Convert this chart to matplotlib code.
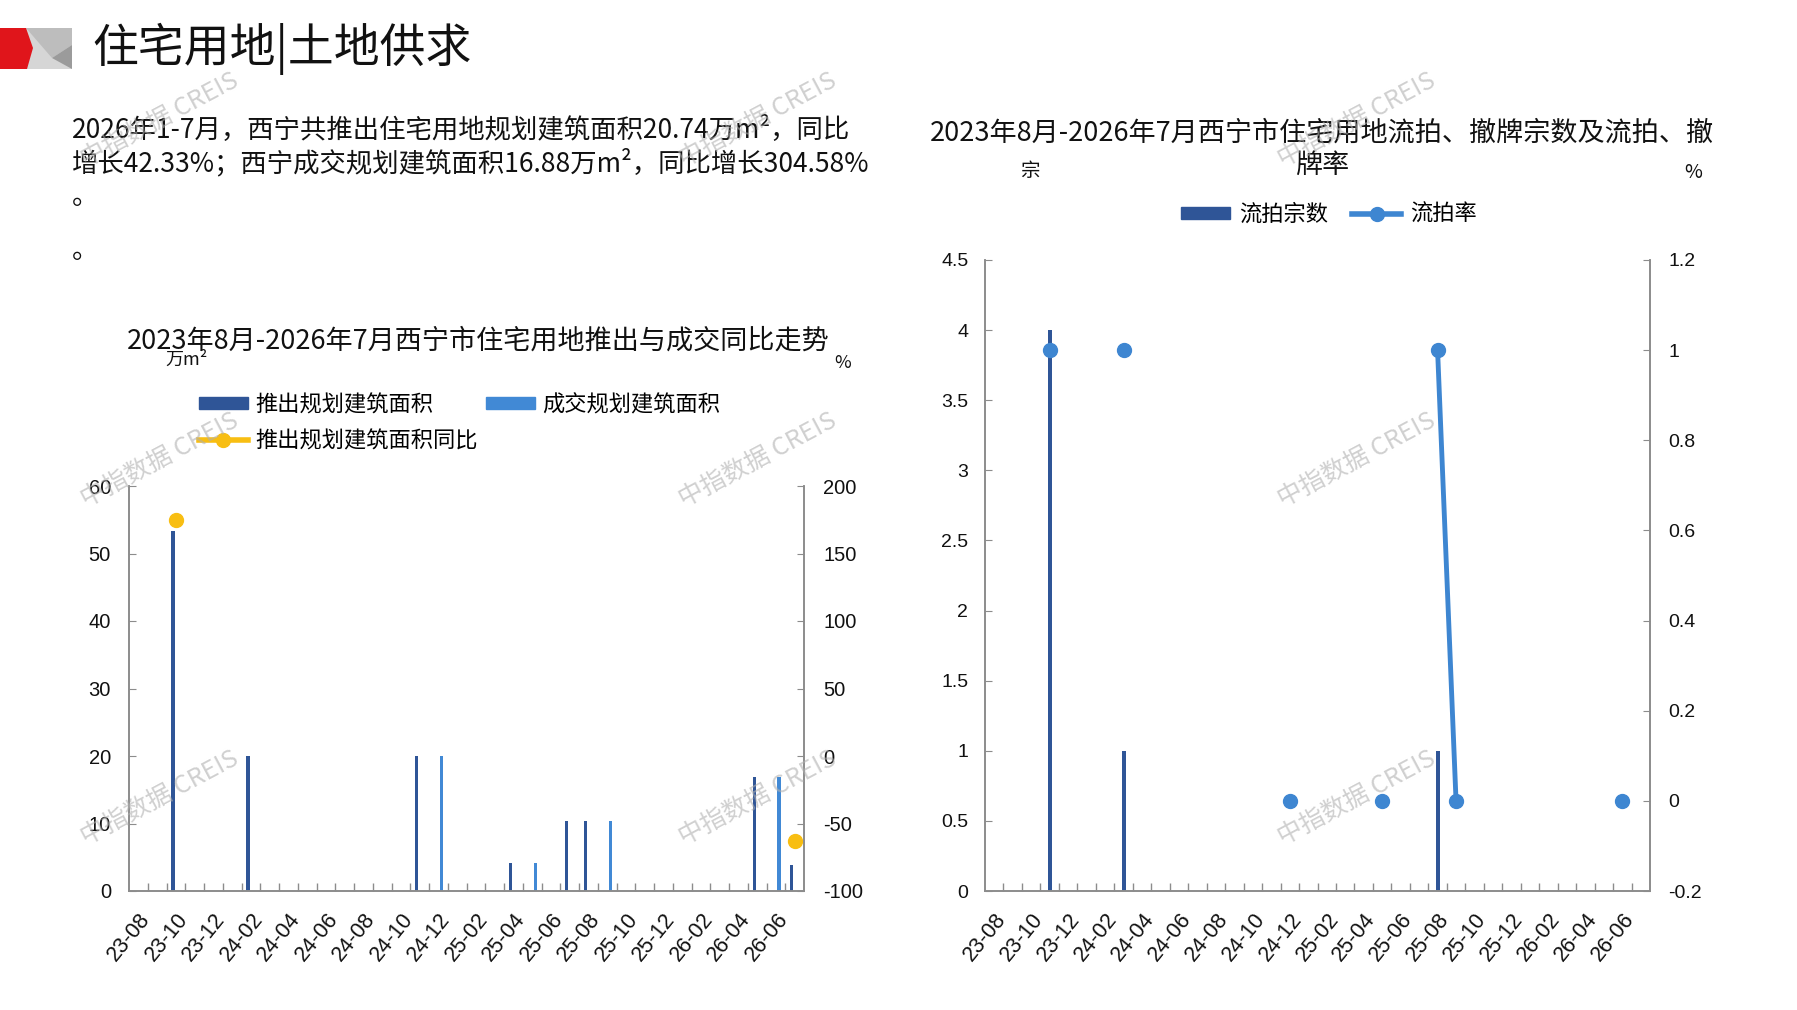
import numpy as np
import matplotlib
matplotlib.use('Agg')
import matplotlib.pyplot as plt
from matplotlib.patches import Polygon, Patch
from matplotlib.lines import Line2D

plt.rcParams['font.family'] = ['Noto Sans CJK SC', 'DejaVu Sans']

# ---- data ----
months = ['23-08', '23-09', '23-10', '23-11', '23-12', '24-01', '24-02', '24-03', '24-04',
          '24-05', '24-06', '24-07', '24-08', '24-09', '24-10', '24-11', '24-12', '25-01',
          '25-02', '25-03', '25-04', '25-05', '25-06', '25-07', '25-08', '25-09', '25-10',
          '25-11', '25-12', '26-01', '26-02', '26-03', '26-04', '26-05', '26-06', '26-07']
nan = np.nan
# 推出规划建筑面积 (万m²)
push_area = [0, 0, 53.4, 0, 0, 0, 20, 0, 0, 0, 0, 0, 0, 0, 0, 20, 0, 0,
             0, 0, 4.1, 0, 0, 10.4, 10.4, 0, 0, 0, 0, 0, 0, 0, 0, 16.9, 0, 3.8]
# 成交规划建筑面积 (万m²)
deal_area = [0, 0, 0, 0, 0, 0, 0, 0, 0, 0, 0, 0, 0, 0, 0, 0, 20, 0,
             0, 0, 0, 4.1, 0, 0, 0, 10.4, 0, 0, 0, 0, 0, 0, 0, 0, 16.9, 0]
# 推出规划建筑面积同比 (%)
push_yoy = [nan, nan, 175, nan, nan, nan, nan, nan, nan, nan, nan, nan, nan, nan, nan, nan, nan, nan,
            nan, nan, nan, nan, nan, nan, nan, nan, nan, nan, nan, nan, nan, nan, nan, nan, nan, -63]
# 流拍宗数
lost_count = [0, 0, 0, 4, 0, 0, 0, 1, 0, 0, 0, 0, 0, 0, 0, 0, 0, 0,
              0, 0, 0, 0, 0, 0, 1, 0, 0, 0, 0, 0, 0, 0, 0, 0, 0, 0]
# 流拍率
lost_rate = [nan, nan, nan, 1, nan, nan, nan, 1, nan, nan, nan, nan, nan, nan, nan, nan, 0, nan,
             nan, nan, nan, 0, nan, nan, 1, 0, nan, nan, nan, nan, nan, nan, nan, nan, 0, nan]

area_ticks = [0, 10, 20, 30, 40, 50, 60]
yoy_ticks = [-100, -50, 0, 50, 100, 150, 200]
count_ticks = [0, 0.5, 1, 1.5, 2, 2.5, 3, 3.5, 4, 4.5]
rate_ticks = [-0.2, 0, 0.2, 0.4, 0.6, 0.8, 1, 1.2]

text1 = '2026年1-7月，西宁共推出住宅用地规划建筑面积20.74万m²，同比'
text2 = '增长42.33%；西宁成交规划建筑面积16.88万m²，同比增长304.58%'

dark = '#2F5597'
light = '#4189D5'
yellow = '#F8BE12'
line_blue = '#3E86D1'
grey = '#8C8C8C'
ink = '#111111'
num_font = 'Liberation Sans'

W, H = 1797, 1010
fig = plt.figure(figsize=(W / 100, H / 100), dpi=100)


def fx(px):
    return px / W


def fy(py):
    return 1 - py / H


# ---- header decoration ----
def poly(pts, color):
    fig.patches.append(Polygon([(fx(a), fy(b)) for a, b in pts], closed=True,
                               transform=fig.transFigure, color=color, lw=0))


poly([(24, 28), (72, 28), (72, 69), (24, 69)], '#D6D6D6')
poly([(26, 28), (72, 28), (72, 45), (52, 58)], '#BDBDBD')
poly([(52, 58), (72, 45), (72, 69)], '#9B9B9B')
poly([(0, 28), (26, 28), (33, 48), (27, 69), (0, 69)], '#E0151B')

fig.text(fx(92), fy(49), '住宅用地|土地供求', fontsize=33, va='center', ha='left', color=ink)
fig.text(fx(72), fy(130), text1, fontsize=19, va='center', ha='left', color=ink)
fig.text(fx(72), fy(163), text2, fontsize=19, va='center', ha='left', color=ink)
fig.text(fx(72), fy(196), '。', fontsize=19, va='center', ha='left', color=ink)
fig.text(fx(72), fy(250), '。', fontsize=19, va='center', ha='left', color=ink)


def style_axes(ax, twin):
    ax.spines['top'].set_visible(False)
    twin.spines['top'].set_visible(False)
    for a in (ax, twin):
        for s in ['left', 'right', 'bottom']:
            a.spines[s].set_color(grey)
            a.spines[s].set_linewidth(1.2)
    ax.set_xlim(-0.5, len(months) - 0.5)
    ax.set_xticks(np.arange(0, len(months), 2))
    ax.set_xticklabels(months[::2], rotation=51, ha='right', rotation_mode='anchor',
                       family=num_font, fontsize=15.5, color=ink)
    ax.set_xticks(np.arange(0.5, len(months) - 0.5, 1), minor=True)
    ax.tick_params(axis='x', which='major', length=0, pad=13)
    ax.tick_params(axis='x', which='minor', direction='in', length=6, color=grey, width=1)


# ---- left chart ----
x = np.arange(len(months))
ax1 = fig.add_axes([fx(129), fy(891), fx(804) - fx(129), (891 - 486) / H])
ax1.bar(x - 0.155, push_area, width=0.18, color=dark)
ax1.bar(x + 0.165, deal_area, width=0.18, color=light)
ax1.set_ylim(0, 60)
ax1.set_yticks(area_ticks)
ax1.set_yticklabels([str(v) for v in area_ticks], family=num_font, fontsize=14.5, color=ink)
ax1.tick_params(axis='y', direction='in', length=5, color=grey, pad=13)

ax1b = ax1.twinx()
ax1b.plot(x, push_yoy, color=yellow, lw=3, marker='o', ms=10)
ax1b.set_ylim(-100, 200)
ax1b.set_yticks(yoy_ticks)
ax1b.set_yticklabels([str(v) for v in yoy_ticks], family=num_font, fontsize=14.5, color=ink)
ax1b.tick_params(axis='y', direction='in', length=5, color=grey, pad=14)
style_axes(ax1, ax1b)

fig.text(fx(478), fy(341), '2023年8月-2026年7月西宁市住宅用地推出与成交同比走势',
         fontsize=19.5, ha='center', va='center', color=ink)
fig.text(fx(186), fy(360), '万m²', fontsize=13, ha='center', va='center', color=ink)
fig.text(fx(843), fy(363), '%', fontsize=13, ha='center', va='center', color=ink)

h_push = Patch(color=dark)
h_deal = Patch(color=light)
h_yoy = Line2D([], [], color=yellow, lw=4, marker='o', ms=10)
fig.legend([h_push, h_yoy, h_deal], ['推出规划建筑面积', '推出规划建筑面积同比', '成交规划建筑面积'],
           ncol=2, loc='upper left', bbox_to_anchor=(fx(199), fy(393)), frameon=False,
           fontsize=16, handlelength=2.2, handleheight=0.5, handletextpad=0.35,
           columnspacing=0.35, labelspacing=0.6, borderpad=0, borderaxespad=0)

# ---- right chart ----
ax2 = fig.add_axes([fx(985), fy(891), fx(1650) - fx(985), (891 - 260) / H])
ax2.bar(x, lost_count, width=0.22, color=dark)
ax2.set_ylim(0, 4.5)
ax2.set_yticks(count_ticks)
ax2.set_yticklabels(['{:g}'.format(v) for v in count_ticks], family=num_font, fontsize=14, color=ink)
ax2.tick_params(axis='y', direction='in', length=5, color=grey, pad=12)

ax2b = ax2.twinx()
ax2b.plot(x, lost_rate, color=line_blue, lw=3.5, marker='o', ms=10)
ax2b.set_ylim(-0.2, 1.2)
ax2b.set_yticks(rate_ticks)
ax2b.set_yticklabels(['{:g}'.format(v) for v in rate_ticks], family=num_font, fontsize=14, color=ink)
ax2b.tick_params(axis='y', direction='in', length=5, color=grey, pad=13)
style_axes(ax2, ax2b)

fig.text(fx(1322), fy(133), '2023年8月-2026年7月西宁市住宅用地流拍、撤牌宗数及流拍、撤',
         fontsize=19.5, ha='center', va='center', color=ink)
fig.text(fx(1322), fy(165), '牌率', fontsize=19.5, ha='center', va='center', color=ink)
fig.text(fx(1030), fy(172), '宗', fontsize=14, ha='center', va='center', color=ink)
fig.text(fx(1693), fy(172), '%', fontsize=14, ha='center', va='center', color=ink)

h_cnt = Patch(color=dark)
h_rate = Line2D([], [], color=line_blue, lw=4, marker='o', ms=10)
fig.legend([h_cnt, h_rate], ['流拍宗数', '流拍率'], ncol=2, loc='upper left',
           bbox_to_anchor=(fx(1181), fy(203)), frameon=False, fontsize=16,
           handlelength=2.2, handleheight=0.5, handletextpad=0.4, columnspacing=1.1,
           borderpad=0, borderaxespad=0)

# ---- watermarks ----
for wy in [120, 460, 798]:
    for wx in [160, 758, 1357]:
        fig.text(fx(wx), fy(wy), '中指数据 CREIS', fontsize=18, rotation=28,
                 ha='center', va='center', color='#B0B0B0', alpha=0.6, zorder=10)

fig.savefig('out.png', dpi=100)
